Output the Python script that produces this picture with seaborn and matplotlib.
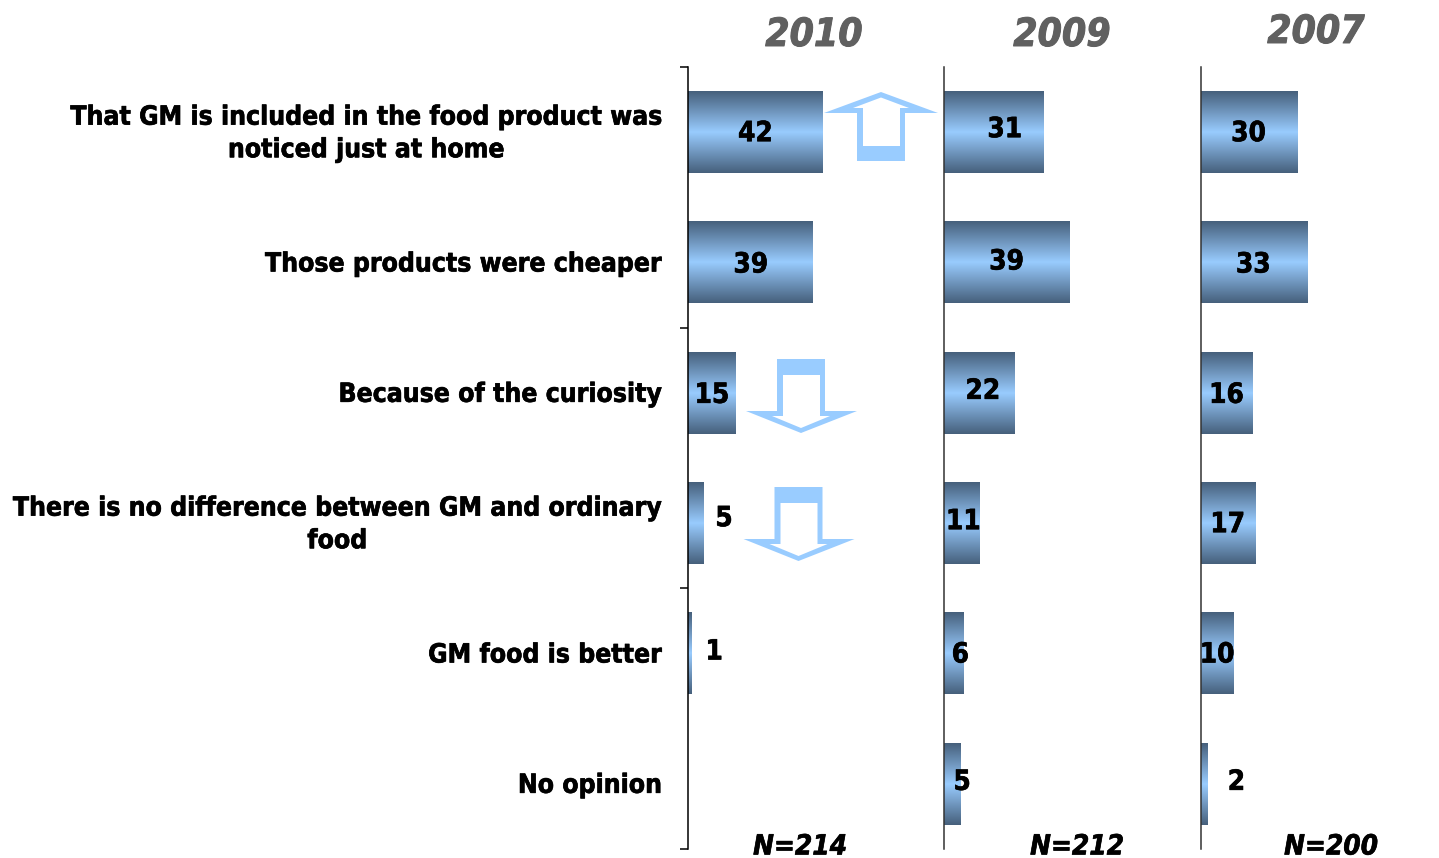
import numpy as np
import pandas as pd
import matplotlib
matplotlib.use("Agg")
import matplotlib.pyplot as plt
import matplotlib.patheffects as pe
from matplotlib.colors import LinearSegmentedColormap
from matplotlib.patches import Polygon
from matplotlib.transforms import ScaledTranslation
import seaborn as sns

categories = [
    "That GM is included in the food product was\nnoticed just at home",
    "Those products were cheaper",
    "Because of the curiosity",
    "There is no difference between GM and ordinary\nfood",
    "GM food is better",
    "No opinion",
]
values_2010 = [42, 39, 15, 5, 1, np.nan]
values_2009 = [31, 39, 22, 11, 6, 5]
values_2007 = [30, 33, 16, 17, 10, 2]
years = ["2010", "2009", "2007"]
sample_sizes = ["N=214", "N=212", "N=200"]

W, H = 1439, 858
DARK, LIGHT = "#46607C", "#99CCFF"
ARROW = "#99CCFF"
YEAR_GREY = "#606060"
TOP, BOTTOM = 67, 849

sns.set_theme(style="white")
plt.rcParams["font.family"] = ["DejaVu Sans"]
plt.rcParams["font.stretch"] = "condensed"
fig = plt.figure(figsize=(W / 100, H / 100), dpi=100)
fig.patch.set_facecolor("white")


def panel(left, right):
    return fig.add_axes([left / W, 1 - BOTTOM / H, (right - left) / W, (BOTTOM - TOP) / H])


def to_fig(points):
    return [(x / W, 1 - y / H) for x, y in points]


def heavier(colour, width=0.45):
    # Thin outline that thickens the bold strokes a little
    return [pe.withStroke(linewidth=width, foreground=colour)]


shade = LinearSegmentedColormap.from_list("bar_shade", [DARK, LIGHT, DARK])
ramp = np.linspace(0, 1, 128).reshape(-1, 1)

# Panel edges and scale in pixels, and where each value label sits relative to its bar end
panels = [
    (688, 944, 3.2, values_2010, [(-67, 0), (-62, 1), (-24, 1), (20, -6), (23, -3), None]),
    (944, 1201, 3.22, values_2009, [(-39, -4), (-63, -2), (-32, -3), (-16, -3), (-3, 0), (2, -3)]),
    (1201, 1439, 3.22, values_2007, [(-49, 0), (-54, 1), (-26, 1), (-28, 0), (-16, 0), (29, -3)]),
]

for i, (left, right, unit_px, vals, offsets) in enumerate(panels):
    ax = panel(left, right)
    frame = pd.DataFrame({"reason": categories, "share": vals})
    sns.barplot(data=frame, y="reason", x="share", order=categories, ax=ax,
                width=0.625, color=LIGHT, orient="h", saturation=1)
    ax.set_xlabel("")
    ax.set_ylabel("")
    ax.patch.set_alpha(0)
    for side in ("top", "right", "bottom"):
        ax.spines[side].set_visible(False)
    ax.spines["left"].set_color("#000000" if i == 0 else "#333333")
    ax.spines["left"].set_linewidth(1.1)
    ax.xaxis.set_visible(False)

    # Replace the flat bar fill with a vertical dark-light-dark ramp
    for bar in ax.patches:
        w = bar.get_width()
        if not np.isfinite(w) or w == 0:
            continue
        y0, h = bar.get_y(), bar.get_height()
        bar.set_visible(False)
        ax.imshow(ramp, cmap=shade, aspect="auto", interpolation="bilinear",
                  extent=(0, w, y0 + h, y0), zorder=2)
    ax.set_xlim(0, (right - left) / unit_px)
    ax.set_ylim(5.5, -0.5)

    if i == 0:
        ax.set_yticks([-0.5, 1.5, 3.5, 5.5])
        ax.set_yticklabels([])
        ax.tick_params(axis="y", which="major", left=True, length=6, width=1.1, color="black")
        ax.set_yticks(range(len(categories)), minor=True)
        labels = ax.set_yticklabels(categories, minor=True, fontsize=19, fontweight="bold",
                                    color="black", ha="right", multialignment="center",
                                    linespacing=1.33)
        ax.tick_params(axis="y", which="minor", left=True, length=0, pad=19)
        for label, name in zip(labels, categories):
            lift = 4.5 if "\n" in name else 1
            label.set_transform(label.get_transform()
                                + ScaledTranslation(0, lift / 100, fig.dpi_scale_trans))
            label.set_path_effects(heavier("black"))
    else:
        ax.set_yticks([])

    for row, (v, off) in enumerate(zip(vals, offsets)):
        if off is None or not np.isfinite(v):
            continue
        ax.annotate(f"{v:g}", xy=(v, row), xytext=(off[0] * 0.72, -(off[1] + 1) * 0.72),
                    textcoords="offset points", ha="center", va="center",
                    fontsize=20, fontweight="bold", color="black", zorder=5,
                    path_effects=heavier("black"))

# Survey year headers and sample sizes
for name, x, y in zip(years, (814, 1062, 1316), (35, 35, 32)):
    fig.text(x / W, 1 - y / H, name, ha="center", va="center", fontsize=28,
             fontweight="bold", fontstyle="italic", color=YEAR_GREY,
             path_effects=heavier(YEAR_GREY, 0.7))
for name, x in zip(sample_sizes, (800, 1077, 1331)):
    fig.text(x / W, 1 - 846.5 / H, name, ha="center", va="center", fontsize=20,
             fontweight="bold", fontstyle="italic", color="black",
             path_effects=heavier("black"))

# Change arrows between the 2010 and 2009 columns
up_outer = [(881, 92), (938, 113), (905, 113), (905, 161), (857, 161), (857, 113), (824, 113)]
up_inner = [(881, 97.5), (909, 108), (900, 108), (900, 146), (863, 146), (863, 108), (853, 108)]
down_outer = [(777, 359), (825, 359), (825, 411), (857, 411), (801, 433), (746, 411), (777, 411)]
down_inner = [(783, 375), (820, 375), (820, 416), (830, 416), (801, 428), (772, 416), (783, 416)]


def arrow(outer, inner, dx=0, dy=0):
    for pts, colour in ((outer, ARROW), (inner, "white")):
        moved = [(x + dx, y + dy) for x, y in pts]
        fig.add_artist(Polygon(to_fig(moved), closed=True, facecolor=colour,
                               edgecolor="none", transform=fig.transFigure, zorder=6))


arrow(up_outer, up_inner)
arrow(down_outer, down_inner)
arrow(down_outer, down_inner, dx=-2.5, dy=128)

fig.savefig("out.png", dpi=100, facecolor="white")
